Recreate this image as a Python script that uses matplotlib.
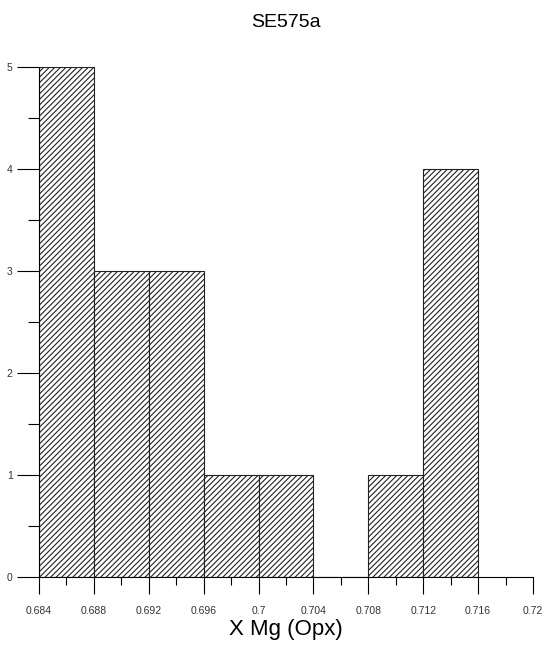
import matplotlib.pyplot as plt
import numpy as np
from matplotlib.ticker import MultipleLocator

plt.rcParams['hatch.linewidth'] = 0.8
plt.rcParams['hatch.color'] = '#333333'
plt.rcParams['font.family'] = ['Liberation Sans', 'DejaVu Sans']

bin_edges = [0.684, 0.688, 0.692, 0.696, 0.700, 0.704, 0.708, 0.712, 0.716]
counts = [5, 3, 3, 1, 1, 0, 1, 4]
xtick_labels = ['0.684', '0.688', '0.692', '0.696', '0.7', '0.704',
                '0.708', '0.712', '0.716', '0.72']

fig = plt.figure(figsize=(5.5, 6.5), dpi=100)
ax = fig.add_axes([0.071, 0.112, 0.898, 0.785])

lefts = np.array(bin_edges[:-1])
widths = np.diff(bin_edges)
ax.bar(lefts, counts, width=widths, align='edge', facecolor='white',
       edgecolor='#222222', linewidth=0.8, hatch='//////')

ax.set_xlim(0.684, 0.72)
ax.set_ylim(0, 5)
ax.set_xticks(np.arange(0.684, 0.7201, 0.004))
ax.set_xticklabels(xtick_labels)
ax.xaxis.set_minor_locator(MultipleLocator(0.002))
ax.yaxis.set_major_locator(MultipleLocator(1))
ax.yaxis.set_minor_locator(MultipleLocator(0.5))
ax.tick_params(axis='x', which='major', length=12, width=0.8, labelsize=7.5,
               pad=9, labelcolor='#333333')
ax.tick_params(axis='x', which='minor', length=6, width=0.8)
ax.tick_params(axis='y', which='major', length=16, width=0.8, labelsize=7.5,
               pad=3, labelcolor='#333333')
ax.tick_params(axis='y', which='minor', length=8, width=0.8)

for s in ['top', 'right']:
    ax.spines[s].set_visible(False)
for s in ['left', 'bottom']:
    ax.spines[s].set_linewidth(0.8)

ax.set_title('SE575a', fontsize=14, pad=29)
ax.set_xlabel('X Mg (Opx)', fontsize=16, labelpad=2)

fig.savefig('out.png', dpi=100)
